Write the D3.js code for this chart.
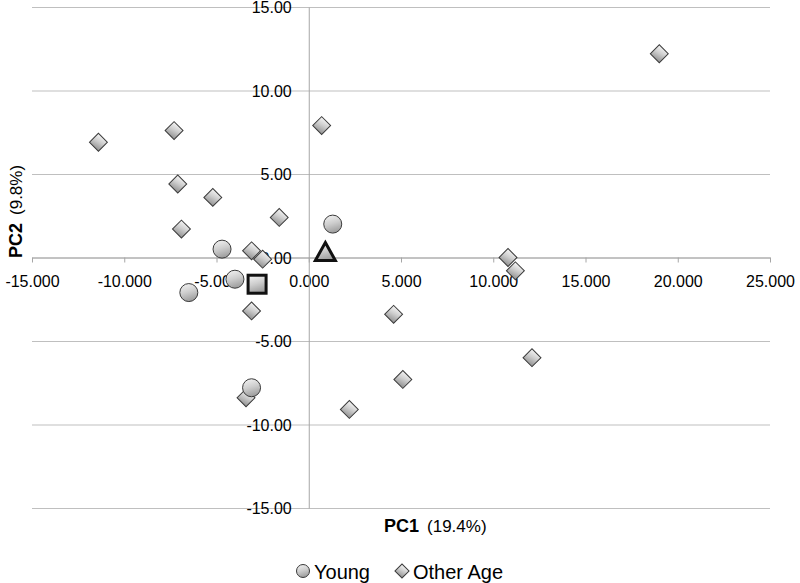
<!DOCTYPE html>
<html>
<head>
<meta charset="utf-8">
<script src="https://cdn.jsdelivr.net/npm/d3@7"></script>
<style>
  body { margin: 0; background: #fff; }
  text { font-family: "Liberation Sans", Arial, sans-serif; fill: #000; }
</style>
</head>
<body>
<div id="chart"></div>
<script>
// Data
var youngX = [1.3, -4.7, -4.0, -6.5, -3.1];
var youngY = [2.0, 0.5, -1.3, -2.1, -7.8];

var otherX = [-11.4, -7.3, -7.1, -5.2, -6.9, 0.7, -1.6, -3.1, -2.5, -3.1, -3.4, 2.2, 5.1, 4.6, 10.8, 11.2, 12.1, 19.0];
var otherY = [6.9, 7.6, 4.4, 3.6, 1.7, 7.9, 2.4, 0.4, -0.1, -3.2, -8.4, -9.1, -7.3, -3.4, 0.0, -0.8, -6.0, 12.2];

// centroids: square and triangle
var squarePt = [-2.8, -1.6];
var trianglePt = [0.9, 0.3];

var xTicks = [-15, -10, -5, 0, 5, 10, 15, 20, 25];
var yTicks = [-15, -10, -5, 0, 5, 10, 15];

var svgWidth = 800;
var svgHeight = 583;

var svg = d3.select("#chart")
    .append("svg")
    .attr("width", svgWidth)
    .attr("height", svgHeight);

// gradient fill like the spreadsheet markers (light top, grey bottom)
var defs = svg.append("defs");
var grad = defs.append("linearGradient")
    .attr("id", "grayFill")
    .attr("x1", 0.2).attr("y1", 0)
    .attr("x2", 0.5).attr("y2", 1);
grad.append("stop").attr("offset", "0%").attr("stop-color", "#f2f2f2");
grad.append("stop").attr("offset", "50%").attr("stop-color", "#cdcdcd");
grad.append("stop").attr("offset", "100%").attr("stop-color", "#9c9c9c");

var xScale = d3.scaleLinear().domain([-15, 25]).range([32, 770]);
var yScale = d3.scaleLinear().domain([-15, 15]).range([508, 7]);

// horizontal gridlines
var grid = svg.append("g")
    .attr("transform", `translate(${xScale(-15)}, 0)`)
    .call(d3.axisLeft(yScale)
        .tickValues(yTicks)
        .tickSize(-(xScale(25) - xScale(-15)))
        .tickFormat(""));
grid.select(".domain").remove();
grid.selectAll("line").attr("stroke", "#bfbfbf");

// x axis on y = 0
var xAxis = svg.append("g")
    .attr("transform", `translate(0, ${yScale(0)})`)
    .call(d3.axisBottom(xScale)
        .tickValues(xTicks)
        .tickSize(5)
        .tickSizeOuter(0)
        .tickFormat(d => d.toFixed(3)));
xAxis.select(".domain").attr("stroke", "#a6a6a6");
xAxis.selectAll("line").attr("stroke", "#a6a6a6");
xAxis.selectAll("text")
    .attr("y", 18)
    .style("font-size", "16px")
    .attr("fill", "#000");

// y axis on x = 0
var yAxis = svg.append("g")
    .attr("transform", `translate(${xScale(0)}, 0)`)
    .call(d3.axisLeft(yScale)
        .tickValues(yTicks)
        .tickSize(0)
        .tickSizeOuter(0)
        .tickFormat(d => d.toFixed(2)));
yAxis.select(".domain").attr("stroke", "#a6a6a6");
yAxis.selectAll("text")
    .attr("x", -17)
    .attr("dy", "0.35em")
    .style("font-size", "16px")
    .attr("fill", "#000");

// axis titles
var xTitle = svg.append("text")
    .attr("x", 384)
    .attr("y", 532);
xTitle.append("tspan").style("font-weight", "bold").style("font-size", "18px").text("PC1");
xTitle.append("tspan").attr("dx", 8).style("font-size", "17px").text("(19.4%)");

var yTitle = svg.append("text")
    .attr("transform", "translate(22, 258) rotate(-90)");
yTitle.append("tspan").style("font-weight", "bold").style("font-size", "18px").text("PC2");
yTitle.append("tspan").attr("dx", 8).style("font-size", "17px").text("(9.8%)");

// markers
var young = youngX.map((v, i) => ({x: v, y: youngY[i]}));
var other = otherX.map((v, i) => ({x: v, y: otherY[i]}));

var circleSym = d3.symbol().type(d3.symbolCircle).size(Math.PI * 9 * 9);
var diamondSym = d3.symbol().type(d3.symbolSquare).size(160);

svg.append("g").selectAll("path")
    .data(other)
    .enter()
    .append("path")
    .attr("d", diamondSym)
    .attr("transform", d => `translate(${xScale(d.x)}, ${yScale(d.y)}) rotate(45)`)
    .attr("fill", "url(#grayFill)")
    .attr("stroke", "#3a3a3a")
    .attr("stroke-width", 1);

svg.append("g").selectAll("path")
    .data(young)
    .enter()
    .append("path")
    .attr("d", circleSym)
    .attr("transform", d => `translate(${xScale(d.x)}, ${yScale(d.y)})`)
    .attr("fill", "url(#grayFill)")
    .attr("stroke", "#3a3a3a")
    .attr("stroke-width", 1);

svg.append("rect")
    .attr("x", xScale(squarePt[0]) - 9)
    .attr("y", yScale(squarePt[1]) - 9)
    .attr("width", 18)
    .attr("height", 18)
    .attr("fill", "url(#grayFill)")
    .attr("stroke", "#111")
    .attr("stroke-width", 3);

svg.append("path")
    .attr("d", "M0,-10L10,8L-10,8Z")
    .attr("transform", `translate(${xScale(trianglePt[0])}, ${yScale(trianglePt[1])})`)
    .attr("fill", "url(#grayFill)")
    .attr("stroke", "#111")
    .attr("stroke-width", 3)
    .attr("stroke-linejoin", "miter");

// legend
var legend = svg.append("g");
legend.append("path")
    .attr("d", d3.symbol().type(d3.symbolCircle).size(Math.PI * 6.5 * 6.5))
    .attr("transform", "translate(303, 571)")
    .attr("fill", "url(#grayFill)")
    .attr("stroke", "#3a3a3a");
legend.append("text")
    .attr("x", 314)
    .attr("y", 579)
    .style("font-size", "20px")
    .text("Young");
legend.append("path")
    .attr("d", d3.symbol().type(d3.symbolSquare).size(100))
    .attr("transform", "translate(402, 571) rotate(45)")
    .attr("fill", "url(#grayFill)")
    .attr("stroke", "#3a3a3a");
legend.append("text")
    .attr("x", 413)
    .attr("y", 579)
    .style("font-size", "20px")
    .text("Other Age");
</script>
</body>
</html>
